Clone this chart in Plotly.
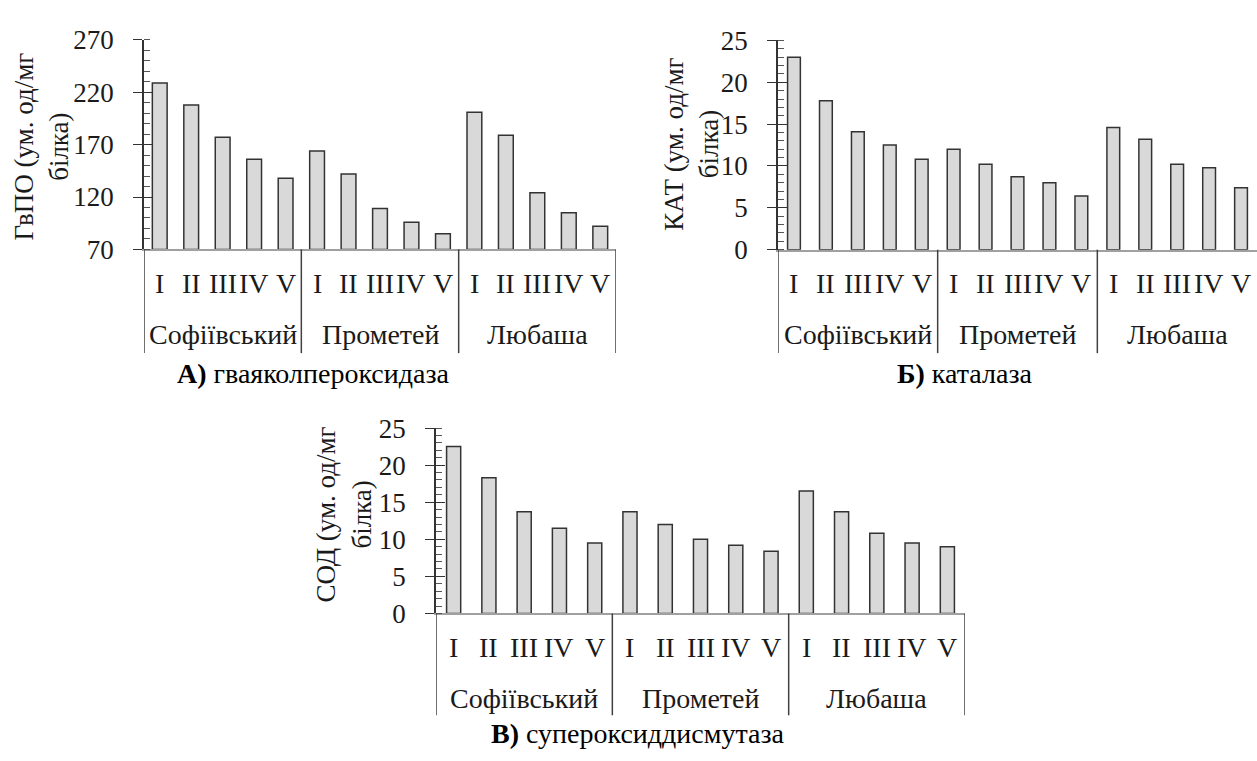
import plotly.graph_objects as go

# ---------------- data ----------------
groups = ["Софіївський", "Прометей", "Любаша"]
stages = ["I", "II", "III", "IV", "V"]

gvpo = [229, 208, 177, 156, 138,
        164, 142, 109, 96, 85,
        201, 179, 124, 105, 92]
kat = [23.0, 17.8, 14.1, 12.5, 10.8,
       12.0, 10.2, 8.7, 8.0, 6.4,
       14.6, 13.2, 10.2, 9.8, 7.4]
sod = [22.5, 18.3, 13.7, 11.5, 9.5,
       13.7, 12.0, 10.0, 9.2, 8.4,
       16.5, 13.7, 10.8, 9.5, 9.0]

titles = ["ГвПО (ум. од/мг<br>білка)", "КАТ (ум. од/мг<br>білка)", "СОД (ум. од/мг<br>білка)"]
captions = ["<b>А)</b> гваяколпероксидаза", "<b>Б)</b> каталаза", "<b>В)</b> супероксиддисмутаза"]

# ---------------- layout helpers ----------------
W, H = 1257, 761
FONT = "Liberation Serif"
FS_TICK = 27
FS_CAT = 28
TXT = "#1a1a1a"

def px(x):
    return x / W

def py(y):
    return 1 - y / H

cats = [f"{g} {s}" for g in groups for s in stages]

panels = [
    dict(vals=gvpo, xl=144, xr=616, yt=26, yb=244, yr=[70, 270], dt=50, mdt=10, bw=0.47,
         rom=280, grp=333, dend=352, cap=(313, 373), tit=(42, 137), right_div=True),
    dict(vals=kat, xl=778, xr=1257, yt=26.5, yb=244.3, yr=[0, 25], dt=5, mdt=1, bw=0.40,
         rom=280, grp=333, dend=352, cap=(964, 373), tit=(692, 135), right_div=False),
    dict(vals=sod, xl=436, xr=965, yt=430, yb=623, yr=[0, 25], dt=5, mdt=1, bw=0.40,
         rom=658, grp=712, dend=729, cap=(637, 748), tit=(344, 520), right_div=True),
]

fig = go.Figure()
annotations = []
shapes = []
layout = {}

for i, p in enumerate(panels):
    n = i + 1
    xa = "x" if n == 1 else f"x{n}"
    ya = "y" if n == 1 else f"y{n}"
    xkey = "xaxis" if n == 1 else f"xaxis{n}"
    ykey = "yaxis" if n == 1 else f"yaxis{n}"
    ovkey = f"yaxis{n + 3}"
    base = p["yr"][0]

    fig.add_trace(go.Bar(
        x=cats, y=[v - base for v in p["vals"]], base=base,
        xaxis=xa, yaxis=ya, width=p["bw"],
        marker=dict(color="#d9d9d9", line=dict(color="#333333", width=1.5)),
        showlegend=False, hoverinfo="skip",
    ))

    layout[xkey] = dict(
        domain=[px(p["xl"]), px(p["xr"])], anchor=ya, type="category",
        categoryorder="array", categoryarray=cats,
        range=[-0.5, len(cats) - 0.5], showticklabels=False, ticks="",
        showline=True, linecolor="#a0a0a0", linewidth=1.5, showgrid=False,
        zeroline=False, fixedrange=True,
    )
    layout[ykey] = dict(
        domain=[py(p["yb"]), py(p["yt"])], anchor=xa, range=p["yr"],
        tick0=p["yr"][0], dtick=p["dt"], ticks="outside", ticklen=9,
        tickwidth=1.3, tickcolor="#333333",
        minor=dict(dtick=p["mdt"], ticks="inside", ticklen=6, tickwidth=1.1,
                   tickcolor="#555555", showgrid=False),
        showline=True, linecolor="#333333", linewidth=1.5, showgrid=False,
        zeroline=False, ticklabelstandoff=14,
        tickfont=dict(family=FONT, size=FS_TICK, color=TXT), fixedrange=True,
    )
    # overlay axis to give the major ticks their inner half (cross ticks)
    layout[ovkey] = dict(
        overlaying=ya, anchor=xa, side="left", range=p["yr"],
        tick0=p["yr"][0], dtick=p["dt"], ticks="inside", ticklen=9,
        tickwidth=1.3, tickcolor="#333333", showticklabels=False,
        showline=False, showgrid=False, zeroline=False, fixedrange=True,
    )

    # category labels
    for j, c in enumerate(cats):
        annotations.append(dict(
            x=c, xref=xa, y=py(p["rom"]), yref="paper", text=stages[j % len(stages)],
            showarrow=False, xanchor="center", yanchor="middle",
            font=dict(family=FONT, size=FS_CAT, color=TXT),
        ))
    for g_i, g in enumerate(groups):
        mid = cats[g_i * len(stages) + len(stages) // 2]
        annotations.append(dict(
            x=mid, xref=xa, y=py(p["grp"]), yref="paper", text=g,
            showarrow=False, xanchor="center", yanchor="middle",
            font=dict(family=FONT, size=FS_CAT, color=TXT),
        ))
    # group dividers
    n_div = len(groups) + 1 if p["right_div"] else len(groups)
    for k in range(n_div):
        xv = k * len(stages) - 0.5
        shapes.append(dict(
            type="line", xref=xa, yref="paper", x0=xv, x1=xv,
            y0=py(p["yb"]), y1=py(p["dend"]),
            line=dict(color="#404040", width=1.5),
        ))
    # y title
    annotations.append(dict(
        x=px(p["tit"][0]), y=py(p["tit"][1]), xref="paper", yref="paper",
        text=titles[i], textangle=-90, showarrow=False,
        xanchor="center", yanchor="middle",
        font=dict(family=FONT, size=FS_TICK, color=TXT),
    ))
    # caption
    annotations.append(dict(
        x=px(p["cap"][0]), y=py(p["cap"][1]), xref="paper", yref="paper",
        text=captions[i], showarrow=False, xanchor="center", yanchor="middle",
        font=dict(family=FONT, size=FS_CAT, color="#000000"),
    ))

# dummy-free overlay axes still need a trace reference to be drawn; attach
# zero-height invisible copies of each panel's categories to them
for i, p in enumerate(panels):
    n = i + 1
    xa = "x" if n == 1 else f"x{n}"
    fig.add_trace(go.Bar(
        x=cats[:1], y=[0], base=p["yr"][0], xaxis=xa, yaxis=f"y{n + 3}",
        marker=dict(color="rgba(0,0,0,0)", line=dict(width=0)),
        showlegend=False, hoverinfo="skip", width=0.01,
    ))

fig.update_layout(
    width=W, height=H, margin=dict(l=0, r=0, t=0, b=0),
    paper_bgcolor="white", plot_bgcolor="white",
    barmode="overlay", showlegend=False,
    annotations=annotations, shapes=shapes,
    **layout,
)

fig.write_html("out.html")
